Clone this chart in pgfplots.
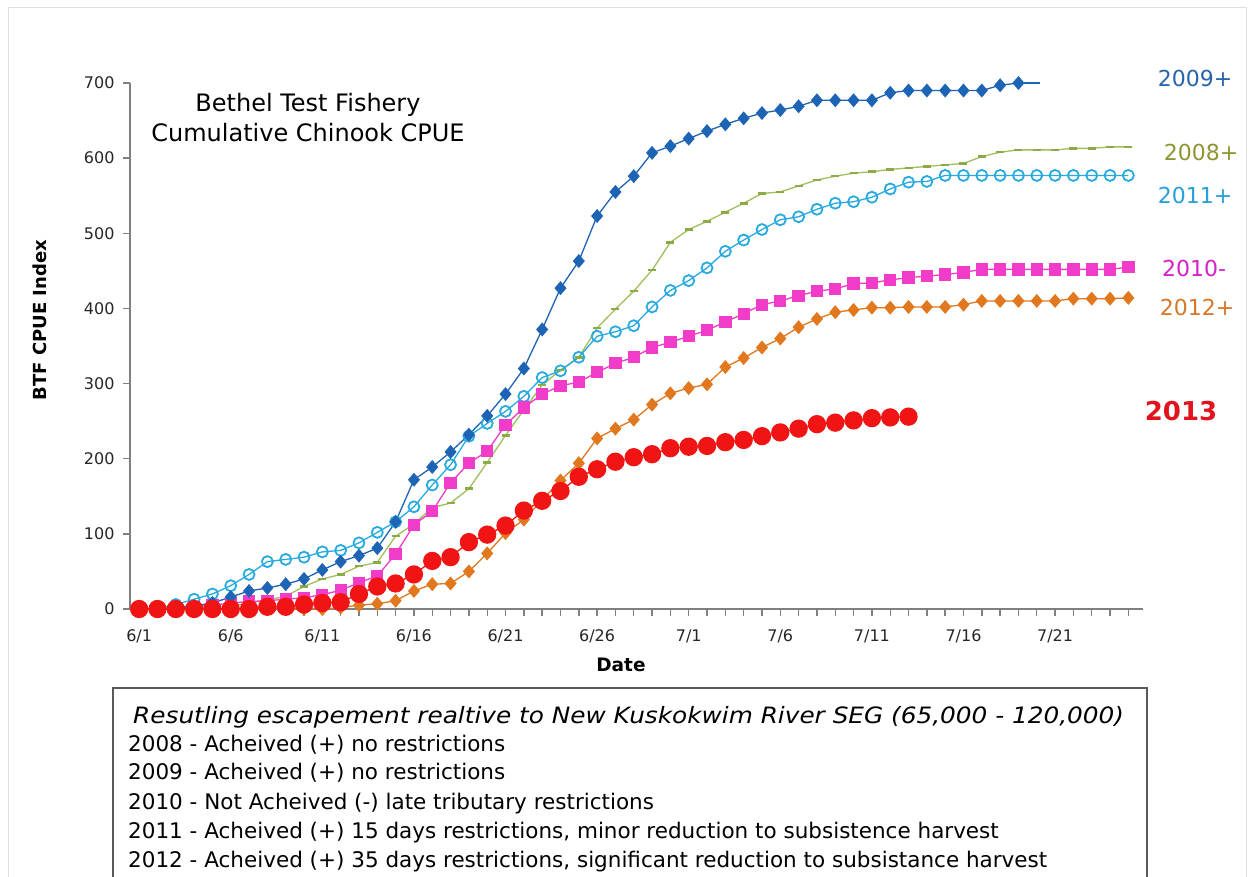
\documentclass[border=0pt]{standalone}
\usepackage{fontspec}
\setmainfont{DejaVu Sans}
\newfontfamily\wide[FakeStretch=1.1]{DejaVu Sans}
\usepackage{pgfplots}
\pgfplotsset{compat=1.18}
\definecolor{axgray}{RGB}{128,128,128}
\definecolor{c08}{RGB}{160,190,90}
\definecolor{c08m}{RGB}{140,170,70}
\definecolor{c09}{RGB}{30,100,180}
\definecolor{c10}{RGB}{240,60,200}
\definecolor{c11}{RGB}{40,170,225}
\definecolor{c12}{RGB}{225,120,30}
\definecolor{c13}{RGB}{240,20,20}
\definecolor{l08}{RGB}{140,150,50}
\definecolor{l09}{RGB}{40,100,170}
\definecolor{l10}{RGB}{215,30,200}
\definecolor{l11}{RGB}{40,160,215}
\definecolor{l12}{RGB}{215,120,40}
\definecolor{l13}{RGB}{225,20,30}

% day index: 0 = 6/1
\pgfplotstableread{
d v
0 0
1 0
2 0
3 1
4 2
5 4
6 8
7 12
8 17
9 30
10 40
11 46
12 57
13 62
14 97
15 113
16 135
17 141
18 160
19 195
20 231
21 265
22 298
23 318
24 335
25 374
26 399
27 423
28 451
29 488
30 505
31 516
32 528
33 540
34 553
35 555
36 563
37 571
38 576
39 580
40 582
41 585
42 587
43 589
44 591
45 593
46 602
47 608
48 611
49 611
50 611
51 613
52 613
53 615
54 615
}\tblA
\pgfplotstableread{
d v
0 0
1 0
2 2
3 4
4 8
5 16
6 24
7 28
8 33
9 40
10 52
11 63
12 71
13 81
14 116
15 172
16 189
17 209
18 232
19 257
20 286
21 320
22 372
23 427
24 463
25 523
26 555
27 576
28 607
29 616
30 626
31 636
32 645
33 653
34 660
35 664
36 669
37 677
38 677
39 677
40 677
41 687
42 690
43 690
44 690
45 690
46 690
47 697
48 700
}\tblB
\pgfplotstableread{
d v
0 0
1 0
2 1
3 3
4 5
5 8
6 10
7 11
8 13
9 15
10 19
11 25
12 35
13 44
14 73
15 112
16 130
17 168
18 194
19 210
20 245
21 268
22 286
23 297
24 302
25 315
26 327
27 335
28 348
29 355
30 363
31 371
32 382
33 393
34 405
35 410
36 417
37 423
38 426
39 433
40 434
41 438
42 441
43 443
44 445
45 448
46 452
47 452
48 452
49 452
50 452
51 452
52 452
53 452
54 455
}\tblC
\pgfplotstableread{
d v
0 0
1 0
2 6
3 13
4 20
5 31
6 46
7 63
8 66
9 69
10 76
11 78
12 88
13 102
14 116
15 136
16 165
17 192
18 230
19 247
20 263
21 283
22 308
23 317
24 335
25 363
26 369
27 377
28 402
29 424
30 437
31 454
32 476
33 491
34 505
35 518
36 522
37 532
38 540
39 542
40 548
41 559
42 568
43 569
44 577
45 577
46 577
47 577
48 577
49 577
50 577
51 577
52 577
53 577
54 577
}\tblD
\pgfplotstableread{
d v
0 0
1 0
2 0
3 0
4 0
5 0
6 0
7 0
8 0
9 0
10 0
11 2
12 5
13 7
14 11
15 24
16 33
17 34
18 50
19 74
20 101
21 119
22 145
23 171
24 194
25 227
26 240
27 252
28 272
29 287
30 294
31 299
32 322
33 334
34 348
35 360
36 375
37 386
38 395
39 398
40 401
41 401
42 402
43 402
44 402
45 405
46 410
47 410
48 410
49 410
50 410
51 413
52 413
53 413
54 414
}\tblE
\pgfplotstableread{
d v
0 0
1 0
2 0
3 0
4 0
5 0
6 0
7 3
8 3
9 6
10 8
11 9
12 20
13 30
14 34
15 46
16 64
17 69
18 89
19 99
20 111
21 131
22 144
23 157
24 176
25 186
26 196
27 202
28 206
29 214
30 216
31 217
32 222
33 225
34 230
35 235
36 240
37 246
38 248
39 251
40 254
41 255
42 256
}\tblF

\begin{document}
\begin{tikzpicture}
\path[use as bounding box] (0pt,0pt) rectangle (1252pt,-877pt);
\clip (0pt,0pt) rectangle (1252pt,-877pt);
\fill[white] (0pt,0pt) rectangle (1252pt,-877pt);
\draw[black!12, line width=1pt] (8pt,-950pt) -- (8pt,-8pt) -- (1246pt,-8pt) -- (1246pt,-950pt);

\begin{axis}[
  at={(130pt,-609pt)}, anchor=south west,
  scale only axis, width=1013pt, height=526pt,
  xmin=-0.5, xmax=54.8, ymin=0, ymax=700,
  clip=false,
  axis x line*=bottom, axis y line*=left,
  axis line style={draw=axgray, line width=1.8pt},
  tick align=outside,
  major tick length=7pt, minor tick length=7pt,
  tick style={draw=axgray, line width=1.4pt},
  xtick={0,5,...,50},
  xticklabels={6/1,6/6,6/11,6/16,6/21,6/26,7/1,7/6,7/11,7/16,7/21},
  minor xtick={0,1,...,54},
  ytick={0,100,...,700},
  /pgf/number format/assume math mode=true,
  tick label style={font=\fontsize{16}{19}\selectfont, text=black!85},
  xticklabel style={yshift=-10pt},
  yticklabel style={xshift=-5pt},
  every axis plot/.append style={line width=1.3pt},
]
\addplot[c08, mark=-, mark size=4pt, mark options={c08m, line width=2.6pt}] table {\tblA};
\addplot[c11, mark=o, mark size=5.5pt, mark options={line width=1.8pt}] table {\tblD};
\addplot[c10, mark=square*, mark size=5.5pt] table {\tblC};
\addplot[c09, forget plot] coordinates {(48,700) (49.2,700)};
\addplot[c09, mark=diamond*, mark size=6pt, mark options={xscale=1.15}] table {\tblB};
\addplot[c12, mark=diamond*, mark size=6pt, mark options={xscale=1.15}] table {\tblE};
\addplot[c13, mark=*, mark size=8.5pt] table {\tblF};
\end{axis}

\node[font=\fontsize{24}{30}\selectfont, align=center] at (308pt,-118pt)
  {Bethel Test Fishery\\Cumulative Chinook CPUE};
\node[font=\bfseries\fontsize{18.5}{22}\selectfont] at (621pt,-665pt) {Date};
\node[font=\bfseries\fontsize{18}{22}\selectfont, rotate=90] at (40pt,-320pt) {BTF CPUE Index};

\node[font=\fontsize{22}{26}\selectfont, text=l09] at (1195pt,-78pt) {2009+};
\node[font=\fontsize{22}{26}\selectfont, text=l08] at (1201pt,-152pt) {2008+};
\node[font=\fontsize{22}{26}\selectfont, text=l11] at (1195pt,-195pt) {2011+};
\node[font=\fontsize{22}{26}\selectfont, text=l10] at (1194pt,-268pt) {2010-};
\node[font=\fontsize{22}{26}\selectfont, text=l12] at (1197pt,-307pt) {2012+};
\node[font=\bfseries\fontsize{26}{30}\selectfont, text=l13] at (1181pt,-411pt) {2013};

\draw[black!65, line width=1.3pt] (113pt,-688pt) rectangle (1147pt,-950pt);
\begin{scope}[every node/.style={anchor=base west, inner sep=0pt, font=\fontsize{21.5}{24}\selectfont}]
\node[font=\wide\itshape\fontsize{22.5}{24}\selectfont] at (133pt,-723pt) {Resutling escapement realtive to New Kuskokwim River SEG (65,000 - 120,000)};
\node at (128pt,-751pt) {2008 - Acheived (+) no restrictions};
\node at (128pt,-779pt) {2009 - Acheived (+) no restrictions};
\node at (128pt,-809pt) {2010 - Not Acheived (-) late tributary restrictions};
\node at (128pt,-838pt) {2011 - Acheived (+) 15 days restrictions, minor reduction to subsistence harvest};
\node at (128pt,-867pt) {2012 - Acheived (+) 35 days restrictions, significant reduction to subsistance harvest};
\end{scope}
\end{tikzpicture}
\end{document}
